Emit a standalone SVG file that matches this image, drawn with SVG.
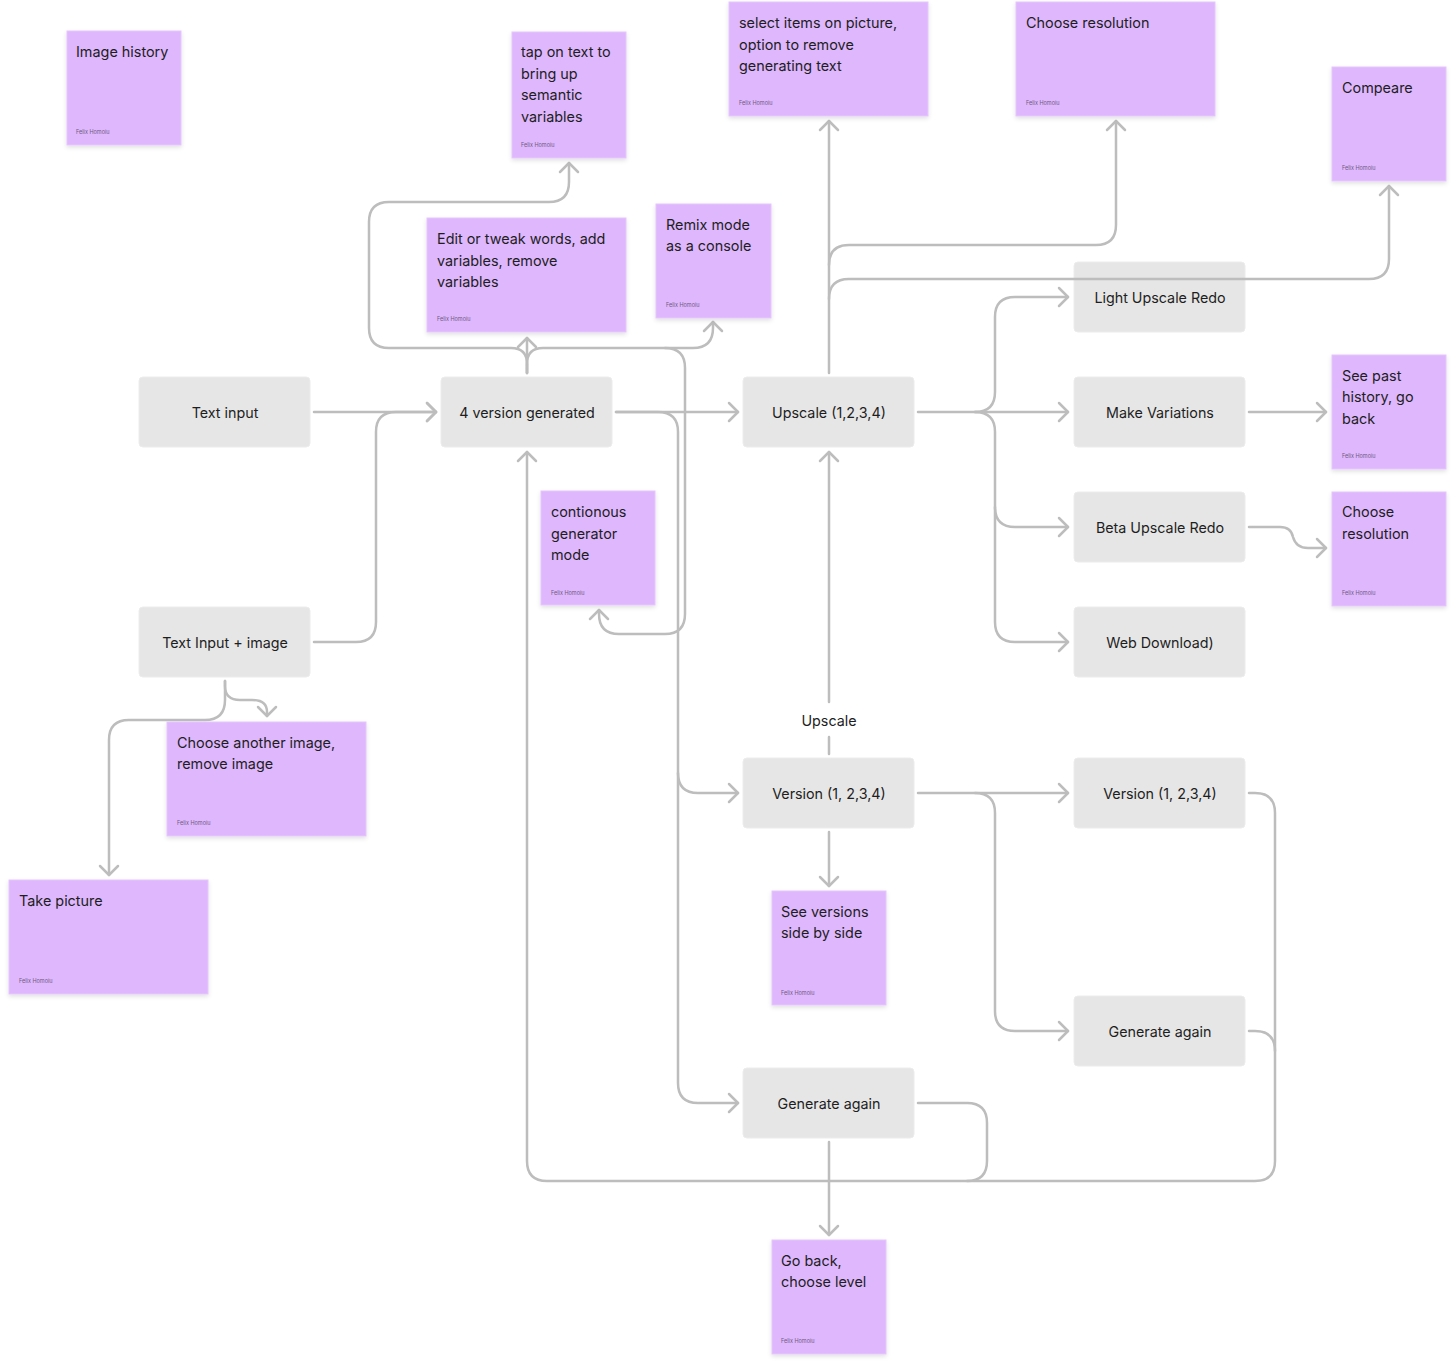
<svg xmlns="http://www.w3.org/2000/svg" width="1456" height="1371" viewBox="0 0 1456 1371">
<defs>
<style>
text{font-family:Inter,"Noto Sans","Liberation Sans",sans-serif;fill:#1E1E1E}
.st rect{fill:#DFB7FD;stroke:#E6C6FE;stroke-width:1;filter:url(#sh)}
.st text{font-size:14.4px}
.st text.au{font-size:5.5px;fill:#6E5A7E}
.nd rect{fill:#E6E6E6;stroke:#ECECEC;stroke-width:1}
.nd text{font-size:14.3px;text-anchor:middle}
.cn path{fill:none;stroke:#BDBDBD;stroke-width:2.5;stroke-linecap:round;stroke-linejoin:round}
.cn path.ar{marker-end:url(#arr)}
.lb{font-size:14.3px;text-anchor:middle}
</style>
<filter id="sh" x="-10%" y="-10%" width="120%" height="130%">
<feDropShadow dx="0" dy="2" stdDeviation="2" flood-color="#000" flood-opacity="0.12"/>
</filter>
<marker id="arr" markerUnits="userSpaceOnUse" viewBox="-13 -13 26 26" markerWidth="26" markerHeight="26" refX="0" refY="0" orient="auto">
<path d="M-9,-9 L0,0 L-9,9" fill="none" stroke="#BDBDBD" stroke-width="2.5" stroke-linecap="round" stroke-linejoin="round"/>
</marker>
</defs>
<rect width="1456" height="1371" fill="#FFFFFF"/>

<g class="nd" id="n-text-input"><rect x="139" y="377" width="171" height="70" rx="4"/><text x="225" y="418">Text input</text></g>
<g class="nd" id="n-4version"><rect x="441" y="377" width="171" height="70" rx="4"/><text x="527" y="418">4 version generated</text></g>
<g class="nd" id="n-upscale"><rect x="743" y="377" width="171" height="70" rx="4"/><text x="829" y="418">Upscale (1,2,3,4)</text></g>
<g class="nd" id="n-text-image"><rect x="139" y="607" width="171" height="70" rx="4"/><text x="225" y="648">Text Input + image</text></g>
<g class="nd" id="n-light"><rect x="1074" y="262" width="171" height="70" rx="4"/><text x="1160" y="303">Light Upscale Redo</text></g>
<g class="nd" id="n-variations"><rect x="1074" y="377" width="171" height="70" rx="4"/><text x="1160" y="418">Make Variations</text></g>
<g class="nd" id="n-beta"><rect x="1074" y="492" width="171" height="70" rx="4"/><text x="1160" y="533">Beta Upscale Redo</text></g>
<g class="nd" id="n-web"><rect x="1074" y="607" width="171" height="70" rx="4"/><text x="1160" y="648">Web Download)</text></g>
<g class="nd" id="n-version-mid"><rect x="743" y="758" width="171" height="70" rx="4"/><text x="829" y="799">Version (1, 2,3,4)</text></g>
<g class="nd" id="n-version-right"><rect x="1074" y="758" width="171" height="70" rx="4"/><text x="1160" y="799">Version (1, 2,3,4)</text></g>
<g class="nd" id="n-generate-right"><rect x="1074" y="996" width="171" height="70" rx="4"/><text x="1160" y="1037">Generate again</text></g>
<g class="nd" id="n-generate-mid"><rect x="743" y="1068" width="171" height="70" rx="4"/><text x="829" y="1109">Generate again</text></g>

<g class="cn" id="connectors">
<path class="ar" d="M314 412 H436"/>
<path class="ar" d="M314 642 H356 Q376 642 376 622 V432 Q376 412 396 412 H436"/>
<path class="ar" d="M527 373 V338"/>
<path class="ar" d="M527 373 V364 Q527 348 511 348 H389 Q369 348 369 328 V222 Q369 202 389 202 H549 Q569 202 569 182 V163"/>
<path class="ar" d="M527 373 V364 Q527 348 543 348 H693 Q713 348 713 328 V322"/>
<path class="ar" d="M665 348 Q685 348 685 368 V614 Q685 634 665 634 H619 Q599 634 599 614 V610"/>
<path class="ar" d="M616 412 H738"/>
<path class="ar" d="M616 412 H658 Q678 412 678 432 V773 Q678 793 698 793 H738"/>
<path class="ar" d="M678 773 V1083 Q678 1103 698 1103 H738"/>
<path d="M829 754 V737"/>
<path class="ar" d="M829 702 V452"/>
<path class="ar" d="M829 373 V121"/>
<path class="ar" d="M829 265 Q829 245 849 245 H1096 Q1116 245 1116 225 V121"/>
<path class="ar" d="M829 299 Q829 279 849 279 H1369 Q1389 279 1389 259 V186"/>
<path class="ar" d="M918 412 H1068"/>
<path class="ar" d="M975 412 Q995 412 995 392 V317 Q995 297 1015 297 H1068"/>
<path class="ar" d="M975 412 Q995 412 995 432 V507 Q995 527 1015 527 H1068"/>
<path class="ar" d="M995 507 V622 Q995 642 1015 642 H1068"/>
<path class="ar" d="M1249 412 H1326"/>
<path class="ar" d="M1249 527 H1280 Q1291 527 1293 537 Q1296 548 1308 548 H1326"/>
<path class="ar" d="M918 793 H1068"/>
<path class="ar" d="M975 793 Q995 793 995 813 V1011 Q995 1031 1015 1031 H1068"/>
<path class="ar" d="M829 832 V886"/>
<path class="ar" d="M1249 793 H1255 Q1275 793 1275 813 V1161 Q1275 1181 1255 1181 H547 Q527 1181 527 1161 V452"/>
<path d="M1249 1031 H1255 Q1275 1031 1275 1051"/>
<path d="M918 1103 H967 Q987 1103 987 1123 V1161 Q987 1181 967 1181"/>
<path class="ar" d="M829 1142 V1235"/>
<path class="ar" d="M225 681 V700 Q225 720 205 720 H129 Q109 720 109 740 V875"/>
<path class="ar" d="M225 681 V686 Q225 700 240 700 H252 Q267 700 267 712 V716"/>
</g>
<text class="lb" x="829" y="726">Upscale</text>

<g class="st" id="s-image-history"><rect x="67" y="31" width="114" height="114"/><text x="76" y="57">Image history</text><text class="au" x="76" y="134">Felix Homoiu</text></g>
<g class="st" id="s-tap"><rect x="512" y="32" width="114" height="126"/><text x="521" y="57">tap on text to</text><text x="521" y="79">bring up</text><text x="521" y="100">semantic</text><text x="521" y="122">variables</text><text class="au" x="521" y="147">Felix Homoiu</text></g>
<g class="st" id="s-select"><rect x="729" y="2" width="199" height="114"/><text x="739" y="28">select items on picture,</text><text x="739" y="50">option to remove</text><text x="739" y="71">generating text</text><text class="au" x="739" y="105">Felix Homoiu</text></g>
<g class="st" id="s-choose-res-top"><rect x="1016" y="2" width="199" height="114"/><text x="1026" y="28">Choose resolution</text><text class="au" x="1026" y="105">Felix Homoiu</text></g>
<g class="st" id="s-compeare"><rect x="1332" y="67" width="114" height="114"/><text x="1342" y="93">Compeare</text><text class="au" x="1342" y="170">Felix Homoiu</text></g>
<g class="st" id="s-edit"><rect x="427" y="218" width="199" height="114"/><text x="437" y="244">Edit or tweak words, add</text><text x="437" y="266">variables, remove</text><text x="437" y="287">variables</text><text class="au" x="437" y="321">Felix Homoiu</text></g>
<g class="st" id="s-remix"><rect x="656" y="204" width="115" height="114"/><text x="666" y="230">Remix mode</text><text x="666" y="251">as a console</text><text class="au" x="666" y="307">Felix Homoiu</text></g>
<g class="st" id="s-contionous"><rect x="541" y="491" width="114" height="114"/><text x="551" y="517">contionous</text><text x="551" y="539">generator</text><text x="551" y="560">mode</text><text class="au" x="551" y="595">Felix Homoiu</text></g>
<g class="st" id="s-past"><rect x="1332" y="355" width="114" height="114"/><text x="1342" y="381">See past</text><text x="1342" y="402">history, go</text><text x="1342" y="424">back</text><text class="au" x="1342" y="458">Felix Homoiu</text></g>
<g class="st" id="s-choose-res-right"><rect x="1332" y="492" width="114" height="114"/><text x="1342" y="517">Choose</text><text x="1342" y="539">resolution</text><text class="au" x="1342" y="595">Felix Homoiu</text></g>
<g class="st" id="s-another"><rect x="167" y="722" width="199" height="114"/><text x="177" y="748">Choose another image,</text><text x="177" y="769">remove image</text><text class="au" x="177" y="825">Felix Homoiu</text></g>
<g class="st" id="s-take"><rect x="9" y="880" width="199" height="114"/><text x="19" y="906">Take picture</text><text class="au" x="19" y="983">Felix Homoiu</text></g>
<g class="st" id="s-side"><rect x="772" y="891" width="114" height="114"/><text x="781" y="917">See versions</text><text x="781" y="938">side by side</text><text class="au" x="781" y="995">Felix Homoiu</text></g>
<g class="st" id="s-goback"><rect x="772" y="1240" width="114" height="114"/><text x="781" y="1266">Go back,</text><text x="781" y="1287">choose level</text><text class="au" x="781" y="1343">Felix Homoiu</text></g>
</svg>
